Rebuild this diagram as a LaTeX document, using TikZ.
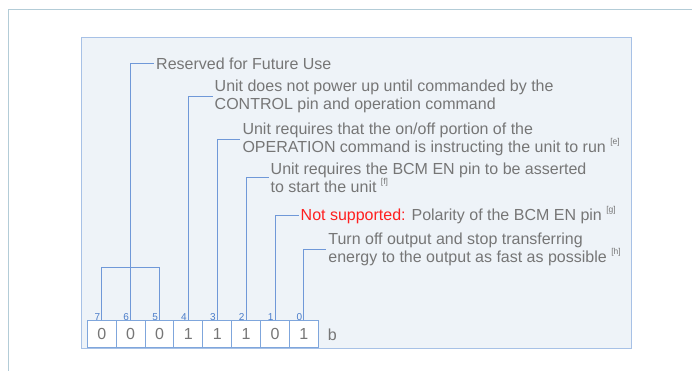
\documentclass[tikz,border=0pt]{standalone}
\usepackage{fontspec}
\setmainfont{Liberation Sans}
\definecolor{txtgray}{HTML}{767676}
\definecolor{lineblue}{HTML}{6F98D8}
\definecolor{numblue}{HTML}{4A7CC9}
\definecolor{cellblue}{HTML}{7FA6DC}
\definecolor{boxblue}{HTML}{A7C1E6}
\definecolor{boxfill}{HTML}{EEF3F8}
\definecolor{framecol}{HTML}{B3CCD7}
\definecolor{redtxt}{HTML}{FF2020}
\newcommand\fnref[1]{\raisebox{0.5em}{\fontsize{8.5}{9}\selectfont[#1]}}
\tikzset{
  bitcell/.style={draw=cellblue, line width=1pt, fill=white, minimum width=28.875pt, minimum height=27pt, inner sep=0pt, text=txtgray, font=\fontsize{16}{18}\selectfont},
  bitnum/.style={anchor=south east, inner sep=0.8pt, text=numblue, font=\fontsize{10}{10}\selectfont},
  desc/.style={anchor=west, inner xsep=2pt, inner ysep=0pt, align=left, text=txtgray, font=\fontsize{16}{18}\selectfont},
  conn/.style={draw=lineblue, line width=0.9pt}
}
\begin{document}
\begin{tikzpicture}[x=1pt,y=-1pt]
\useasboundingbox (0,0) rectangle (692,371);
% outer frame
\draw[framecol, line width=1.5pt] (8.3,380) -- (8.3,9.7) -- (700,9.7);
% inner box
\node[draw=boxblue, line width=1.3pt, fill=boxfill, minimum width=550pt, minimum height=311pt, inner sep=0pt, anchor=north west] (panel) at (81,37) {};
% bit cells
\foreach \i/\v [count=\k from 0] in {7/0,6/0,5/0,4/1,3/1,2/1,1/0,0/1} {
  \node[bitcell] (b\i) at (101.7+28.875*\k, 334.2) {\v};
  \node[bitnum] (n\i) at ([xshift=-0.6pt,yshift=-1.2pt]b\i.north) {\i};
}
\node[anchor=center, text=txtgray, font=\fontsize{16}{18}\selectfont, inner sep=0pt] (unit) at (332.3,335) {b};
% descriptions
\node[desc] (lres) at (154,63.3) {Reserved for Future Use};
\node[desc] (l4) at (212.5,96.5) {Unit does not power up until commanded by the\\CONTROL pin and operation command};
\node[desc] (l3) at (240.3,139.5) {Unit requires that the on/off portion of the\\OPERATION command is instructing the unit to run \fnref{e}};
\node[desc] (l2) at (268.5,177.5) {Unit requires the BCM EN pin to be asserted\\to start the unit \fnref{f}};
\node[desc] (l1) at (298.5,215) {{\color{redtxt}Not supported:} Polarity of the BCM EN pin \fnref{g}};
\node[desc] (l0) at (326.2,249) {Turn off output and stop transferring\\energy to the output as fast as possible \fnref{h}};
% connectors
\coordinate (brk) at (130.7,267.3);
\draw[conn] (b7.north) |- (brk) -| (b5.north);
\draw[conn] (b6.north) |- (lres.west);
\draw[conn] (b4.north) |- (l4.west);
\draw[conn] (b3.north) |- (l3.west);
\draw[conn] (b2.north) |- (l2.west);
\draw[conn] (b1.north) |- (l1.west);
\draw[conn] (b0.north) |- (l0.west);
\end{tikzpicture}
\end{document}
